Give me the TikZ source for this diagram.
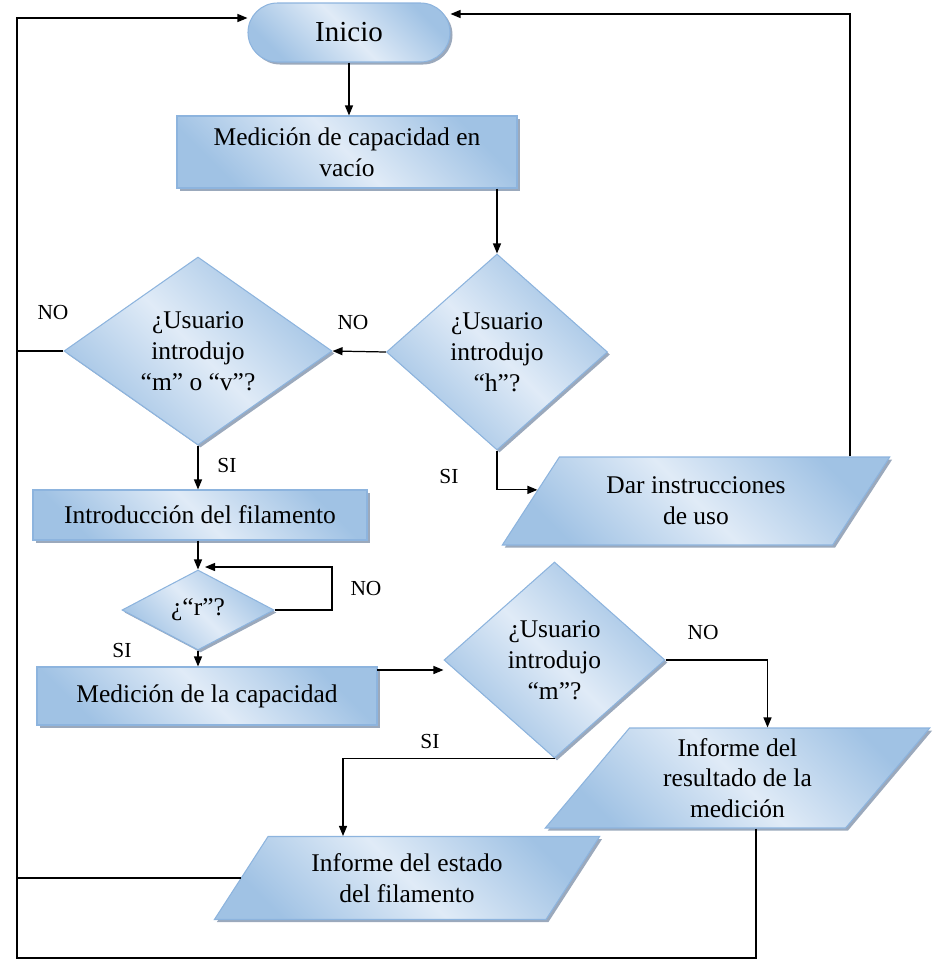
\documentclass[tikz,border=0pt]{standalone}
\usepackage{fontspec}
\setmainfont{Liberation Serif}
\usepackage{xcolor}
\usepackage{tikz}
\usetikzlibrary{shapes.geometric,shadows,arrows.meta,calc}

\definecolor{claro}{RGB}{224,235,247}
\definecolor{oscuro}{RGB}{160,194,228}
\definecolor{borde}{RGB}{141,180,222}
\definecolor{sombra}{RGB}{112,132,160}

\begin{document}
\begin{tikzpicture}

\tikzstyle{forma}=[draw=borde, line width=0.6pt, top color=oscuro, bottom color=oscuro, middle color=claro, shading angle=-45, drop shadow={shadow xshift=0.05cm, shadow yshift=-0.05cm, fill=sombra, opacity=0.7}, align=center, inner sep=0pt, font=\fontsize{14.5}{17.5}\selectfont]
\tikzstyle{terminal}=[forma, rectangle, rounded corners=0.59cm, minimum width=4.04cm, minimum height=1.18cm, font=\fontsize{16.5}{19}\selectfont]
\tikzstyle{proceso}=[forma, rectangle, minimum width=6.8cm]
\tikzstyle{pregunta}=[forma, diamond]
\tikzstyle{datos}=[forma, trapezium, trapezium stretches=true]
\tikzstyle{suite}=[->, >={Triangle[length=2mm,width=1.6mm]}, line width=0.7pt]
\tikzstyle{linea}=[line width=0.7pt]
\tikzstyle{etiq}=[font=\fontsize{12.2}{14}\selectfont]

\useasboundingbox (0,0) rectangle (18.64,-19.42);

%colocación de los nodos
\node[terminal] (inicio) at (6.98,-0.65) {Inicio};
\node[proceso, minimum height=1.44cm] (vacio) at (6.94,-3.04) {Medición de capacidad en\\vacío};
\node[pregunta, minimum width=4.42cm, minimum height=3.92cm] (hq) at (9.94,-7.04) {¿Usuario\\introdujo\\“h”?};
\node[pregunta, minimum width=5.36cm, minimum height=3.76cm, aspect=1.43] (mv) at (3.96,-7.02) {¿Usuario\\introdujo\\“m” o “v”?};
\node[datos, trapezium left angle=52, trapezium right angle=128, minimum width=7.76cm, minimum height=1.76cm] (dar) at (13.92,-10.02) {Dar instrucciones\\de uso};
\node[proceso, minimum width=6.68cm, minimum height=1.0cm] (intro) at (4.0,-10.3) {Introducción del filamento};
\node[pregunta, minimum width=3.04cm, minimum height=1.6cm, aspect=1.9] (rq) at (3.96,-12.2) {¿“r”?};
\node[proceso, minimum height=1.16cm] (medcap) at (4.14,-13.92) {Medición de la capacidad};
\node[pregunta, minimum width=4.42cm, minimum height=3.92cm] (dm) at (11.09,-13.2) {¿Usuario\\introdujo\\“m”?};
\node[datos, trapezium left angle=54, trapezium right angle=126, minimum width=7.7cm, minimum height=2.0cm] (res) at (14.75,-15.56) {Informe del\\resultado de la\\medición};
\node[datos, trapezium left angle=53, trapezium right angle=127, minimum width=7.72cm, minimum height=1.66cm] (estado) at (8.14,-17.56) {Informe del estado\\del filamento};

%etiquetas
\node[etiq] (nohq) at (7.06,-6.46) {NO};
\node[etiq] (sihq) at (8.98,-9.52) {SI};
\node[etiq] (nomv) at (1.06,-6.26) {NO};
\node[etiq] (simv) at (4.54,-9.30) {SI};
\node[etiq] (norq) at (7.32,-11.76) {NO};
\node[etiq] (sirq) at (2.44,-13.0) {SI};
\node[etiq] (nodm) at (14.06,-12.64) {NO};
\node[etiq] (sidm) at (8.6,-14.82) {SI};

%puntos de paso
\coordinate (ltop) at (0.34,-0.36);
\coordinate (lbot) at (0.34,-19.16);
\coordinate (rtop) at (17.0,-0.28);
\coordinate (rbot) at (15.12,-19.16);
\coordinate (rlazo) at (6.64,-11.34);
\coordinate (rin) at (4.1,-11.34);
\coordinate (mcout) at (7.54,-13.4);
\coordinate (darin) at ($(dar.top left corner)!0.375!(dar.bottom left corner)$);

%flechas
\draw[suite] (inicio.south) -- (inicio.south |- vacio.north);
\draw[suite] (vacio.south -| hq.north) -- (hq.north);
\draw[suite] (hq.west) -- (mv.east);
\draw[suite] (hq.south) |- (darin);
\draw[suite] (dar.north -| rtop) -- (rtop) -- (inicio.east |- rtop);
\draw[linea] (mv.west) -- (mv.west -| ltop);
\draw[suite] (res.south -| rbot) -- (rbot) -- (lbot) -- (ltop) -- (inicio.west |- ltop);
\draw[linea] (estado.west) -- (estado.west -| ltop);
\draw[suite] (mv.south) -- (mv.south |- intro.north);
\draw[suite] (intro.south -| rq.north) -- (rq.north);
\draw[suite] (rq.east) -| (rlazo) -- (rin);
\draw[suite] (rq.south) -- (rq.south |- medcap.north);
\draw[suite] (mcout) -- (mcout -| dm.west);
\draw[suite] (dm.east) -| ([xshift=0.6cm]res.north);
\draw[suite] (dm.south) -| ([xshift=-1.28cm]estado.north);
\end{tikzpicture}
\end{document}
